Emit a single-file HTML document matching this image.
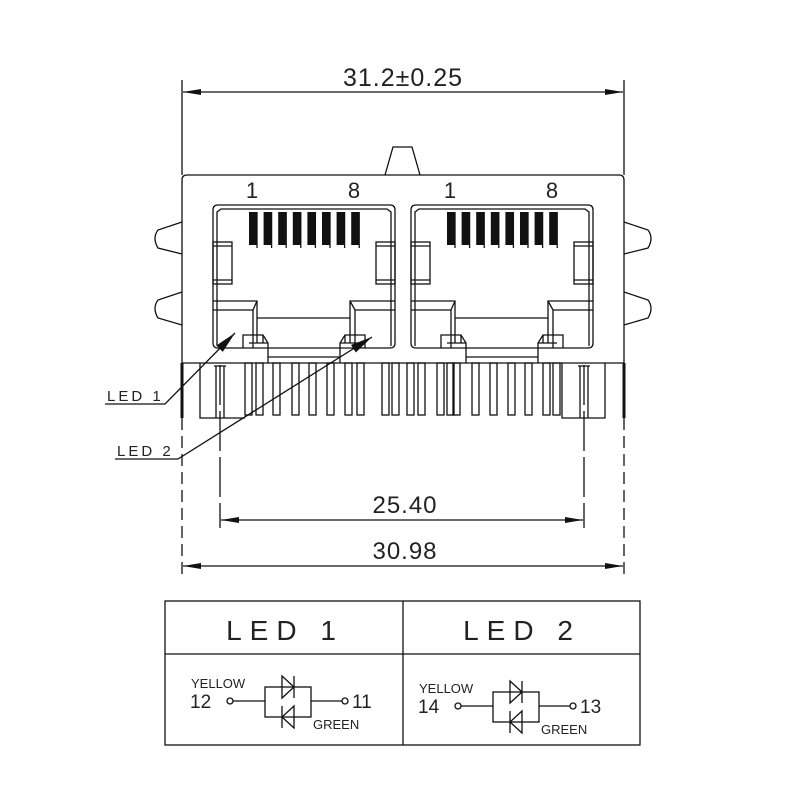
<!DOCTYPE html>
<html><head><meta charset="utf-8"><style>
html,body{margin:0;padding:0;background:#fff;}
svg{display:block;}
text{font-family:"Liberation Sans",sans-serif;fill:#222;}
</style></head><body>
<svg id="s" width="800" height="800" viewBox="0 0 800 800" xmlns="http://www.w3.org/2000/svg" stroke="#111" stroke-width="1.3" fill="none">
<defs>
<marker id="a" viewBox="0 0 10 10" refX="10" refY="5" markerWidth="18" markerHeight="6" preserveAspectRatio="none" orient="auto-start-reverse" markerUnits="userSpaceOnUse"><path d="M0,0 L10,5 L0,10 z" fill="#111" stroke="none"/></marker>
<marker id="b" viewBox="0 0 10 10" refX="10" refY="5" markerWidth="22" markerHeight="9" preserveAspectRatio="none" orient="auto" markerUnits="userSpaceOnUse"><path d="M0,0 L10,5 L0,10 z" fill="#111" stroke="none"/></marker>
</defs>
<line x1="182" y1="80" x2="182" y2="175"/>
<line x1="624" y1="80" x2="624" y2="175"/>
<line x1="183" y1="92" x2="623" y2="92" marker-start="url(#a)" marker-end="url(#a)"/>
<text x="403" y="86" font-size="25" text-anchor="middle" stroke="none" letter-spacing="1">31.2±0.25</text>
<path d="M385,175 L393,147 L412,147 L420,175"/>
<path d="M182,363 L182,180 Q182,175 187,175 L619,175 Q624,175 624,180 L624,363"/>
<line x1="182" y1="363" x2="624" y2="363"/>
<path d="M182,222 L158,230 Q152,238 158,248 L182,254"/>
<path d="M182,292 L158,300 Q152,308 158,318 L182,325"/>
<path d="M624,222 L648,230 Q654,238 648,248 L624,254"/>
<path d="M624,292 L648,300 Q654,308 648,318 L624,325"/>
<g id="jacks"></g>
<g id="pins"></g>
<line x1="182" y1="363" x2="182" y2="418" stroke-width="3"/>
<line x1="624" y1="363" x2="624" y2="418" stroke-width="3"/>
<line x1="182" y1="418" x2="182" y2="575" stroke-dasharray="12,6"/>
<line x1="624" y1="418" x2="624" y2="575" stroke-dasharray="12,6"/>
<line x1="220" y1="365" x2="220" y2="528" stroke-dasharray="40,6"/>
<line x1="584" y1="365" x2="584" y2="528" stroke-dasharray="40,6"/>
<line x1="221" y1="520" x2="583" y2="520" marker-start="url(#a)" marker-end="url(#a)"/>
<text x="405" y="513" font-size="24" text-anchor="middle" stroke="none" letter-spacing="1">25.40</text>
<line x1="183" y1="566" x2="623" y2="566" marker-start="url(#a)" marker-end="url(#a)"/>
<text x="405" y="559" font-size="24" text-anchor="middle" stroke="none" letter-spacing="1">30.98</text>
<text x="107" y="401" font-size="15" stroke="none" letter-spacing="3">LED 1</text>
<polyline points="105,404 165,404 235,333" marker-end="url(#b)"/>
<text x="117" y="456" font-size="15" stroke="none" letter-spacing="3">LED 2</text>
<polyline points="115,459 178,459 372,337" marker-end="url(#b)"/>
<rect x="165" y="601" width="475" height="144"/>
<line x1="165" y1="654" x2="640" y2="654"/>
<line x1="403" y1="601" x2="403" y2="745"/>
<text x="285" y="640" font-size="28" text-anchor="middle" stroke="none" letter-spacing="8">LED 1</text>
<text x="522" y="640" font-size="28" text-anchor="middle" stroke="none" letter-spacing="8">LED 2</text>
<g id="led1"></g>
<g id="led2" transform="translate(228,5)"></g>
</svg>
<script>
const NS="http://www.w3.org/2000/svg";
function el(p,tag,attrs,txt){const e=document.createElementNS(NS,tag);for(const k in attrs)e.setAttribute(k,attrs[k]);if(txt)e.textContent=txt;p.appendChild(e);return e;}
const J=document.getElementById('jacks');
[[213,252],[411,450]].forEach(([x0,bx])=>{
 const x1=x0+182;
 el(J,'path',{d:`M${x0},210 Q${x0},205 ${x0+5},205 L${x1-5},205 Q${x1},205 ${x1},210 L${x1},343 Q${x1},348 ${x1-5},348 L${x0+5},348 Q${x0},348 ${x0},343 Z`});
 el(J,'path',{d:`M${x0+4},346 L${x0+4},212 L${x0+8},209 L${x1-8},209 L${x1-4},212 L${x1-4},346`});
 for(let i=0;i<8;i++){const x=bx-3+i*14.6;el(J,'rect',{x:x,y:212,width:8,height:33,fill:'#111',stroke:'none'});el(J,'line',{x1:x+8,y1:212,x2:x+8,y2:248});}
 el(J,'text',{x:bx,y:198,'font-size':22,'text-anchor':'middle',stroke:'none'},'1');
 el(J,'text',{x:bx+102,y:198,'font-size':22,'text-anchor':'middle',stroke:'none'},'8');
 el(J,'rect',{x:x0,y:242,width:19,height:42});el(J,'line',{x1:x0,y1:246,x2:x0+19,y2:246});el(J,'line',{x1:x0,y1:280,x2:x0+19,y2:280});
 el(J,'rect',{x:x1-19,y:242,width:19,height:42});el(J,'line',{x1:x1-19,y1:246,x2:x1,y2:246});el(J,'line',{x1:x1-19,y1:280,x2:x1,y2:280});
 el(J,'path',{d:`M${x0},301 L${x0+44},301 L${x0+44},343 M${x0},310 L${x0+40},310 L${x0+44},301 M${x0+40},310 L${x0+40},348`});
 el(J,'path',{d:`M${x1},301 L${x1-45},301 L${x1-45},343 M${x1},310 L${x1-40},310 L${x1-45},301 M${x1-40},310 L${x1-40},348`});
 el(J,'line',{x1:x0+44,y1:318,x2:x1-45,y2:318});
 el(J,'path',{d:`M${x0+30},348 L${x0+30},335 L${x0+50},335 L${x0+55},343 L${x0+55},363`});
 el(J,'path',{d:`M${x0+36},343 L${x0+55},343 M${x0+50},335 L${x0+50},343`});
 el(J,'path',{d:`M${x1-30},348 L${x1-30},335 L${x1-50},335 L${x1-55},343 L${x1-55},363`});
 el(J,'path',{d:`M${x1-36},343 L${x1-55},343 M${x1-50},335 L${x1-50},343`});
 el(J,'line',{x1:x0+55,y1:357,x2:x1-55,y2:357});
});
const P=document.getElementById('pins');
[245,256,273,292,309,327,345,357,382,392,407,418,437,447,453,472,490,508,525,543,553].forEach(x=>{el(P,'rect',{x:x,y:363,width:7,height:52});});
el(P,'path',{d:'M200,363 L200,418 L245,418'});
el(P,'path',{d:'M605,363 L605,418 L562,418 L562,363'});
el(P,'path',{d:'M216,366 L216,418 M224,366 L224,418 M214,366 L226,366 M580,366 L580,418 M588,366 L588,418 M578,366 L590,366'});
function led(g,l,r){
 el(g,'text',{x:191,y:688,'font-size':13,stroke:'none'},'YELLOW');
 el(g,'text',{x:190,y:708,'font-size':19,stroke:'none'},l);
 el(g,'circle',{cx:230,cy:701,r:3});
 el(g,'line',{x1:233,y1:701,x2:265,y2:701});
 el(g,'rect',{x:265,y:687,width:46,height:30});
 el(g,'line',{x1:311,y1:701,x2:342,y2:701});
 el(g,'circle',{cx:345,cy:701,r:3});
 el(g,'text',{x:352,y:708,'font-size':19,stroke:'none'},r);
 el(g,'text',{x:313,y:729,'font-size':13,stroke:'none'},'GREEN');
 el(g,'path',{d:'M282,676 L282,698 L294,687 Z M294,676 L294,698'});
 el(g,'path',{d:'M294,706 L294,728 L282,717 Z M282,706 L282,728'});
}
led(document.getElementById('led1'),'12','11');
led(document.getElementById('led2'),'14','13');
</script>
</body></html>
